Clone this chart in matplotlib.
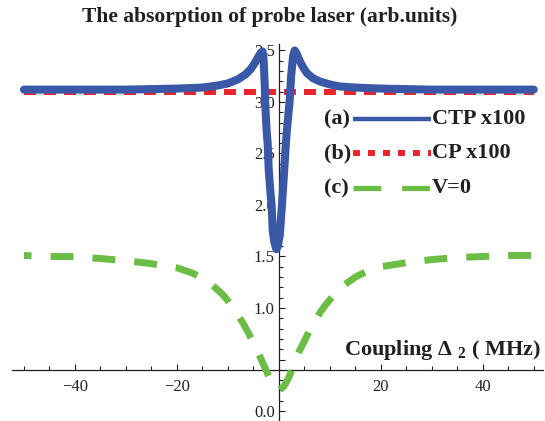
import matplotlib
matplotlib.use("Agg")
import matplotlib.pyplot as plt
import numpy as np
from matplotlib.ticker import FixedLocator, FixedFormatter

# ---------------- data ----------------
x_ctp = [-50, -40, -30, -20, -15, -12, -10, -8, -6.5, -5.5, -4.7, -4.0, -3.5, -3.2,
         -3.0, -2.8, -2.6, -2.4, -2.2, -2.0, -1.7, -1.4, -1.2, -0.9, -0.5, -0.2,
         0.2, 0.6, 1.0, 1.4, 1.8, 2.1, 2.4, 2.8, 3.1, 3.4, 4.0, 4.7, 5.5, 6.7,
         8, 10, 12, 15, 20, 30, 40, 50]
y_ctp = [3.12, 3.12, 3.12, 3.13, 3.14, 3.16, 3.18, 3.22, 3.27, 3.32, 3.38, 3.44, 3.48, 3.49,
         3.42, 3.20, 2.90, 2.72, 2.60, 2.35, 2.15, 1.98, 1.75, 1.64, 1.57, 1.60,
         1.72, 2.00, 2.30, 2.62, 2.85, 3.00, 3.25, 3.45, 3.50, 3.48, 3.41, 3.34, 3.28, 3.23,
         3.20, 3.17, 3.15, 3.14, 3.13, 3.12, 3.12, 3.12]

x_cp = [-50, 50]
y_cp = [3.095, 3.095]

x_v0 = [-50, -45, -40, -35, -30, -25, -20, -17, -15, -13, -11, -10, -9, -8, -7, -6, -5, -4,
        -3, -2, -1, 0, 1, 2, 3, 4, 5, 6, 7, 8, 9, 10, 11, 13, 15, 17, 20, 25, 30, 35, 40, 45, 50]
y_v0 = [1.51, 1.50, 1.50, 1.48, 1.46, 1.43, 1.39, 1.34, 1.29, 1.22, 1.13, 1.07, 1.00, 0.93,
        0.85, 0.76, 0.66, 0.56, 0.45, 0.34, 0.25, 0.20, 0.24, 0.33, 0.46, 0.58, 0.68, 0.78,
        0.87, 0.95, 1.02, 1.08, 1.14, 1.23, 1.30, 1.35, 1.40, 1.44, 1.47, 1.49, 1.50, 1.51, 1.51]

x_major = [-40, -20, 20, 40]
x_major_labels = ["\u221240", "\u221220", "20", "40"]
x_minor = [-50, -45, -35, -30, -25, -15, -10, -5, 5, 10, 15, 25, 30, 35, 45, 50]
y_major = [0.0, 0.5, 1.0, 1.5, 2.0, 2.5, 3.0, 3.5]
y_major_labels = ["0.0", "", "1.0", "1.5", "2.0", "2.5", "3.0", "3.5"]

series_labels = ["CTP x100", "CP x100", "V=0"]
series_tags = ["(a)", "(b)", "(c)"]

# ---------------- style ----------------
BLUE = "#3a58a8"
RED = "#ea2529"
GREEN = "#6bbd45"
INK = "#231f20"
plt.rcParams["font.family"] = ["Liberation Serif", "DejaVu Serif"]
plt.rcParams["lines.scale_dashes"] = False
plt.rcParams["mathtext.fontset"] = "custom"
plt.rcParams["mathtext.rm"] = "Liberation Serif:bold"
plt.rcParams["mathtext.bf"] = "Liberation Serif:bold"
plt.rcParams["mathtext.it"] = "Liberation Serif:bold"

W, H = 545, 421
fig = plt.figure(figsize=(W / 100, H / 100), dpi=100)
ax = fig.add_axes([0, 0, 1, 1])
ax.set_xlim(-54.7, 52.2)
ax.set_ylim(-0.097, 3.99)

# axes through the data (Mathematica style)
for s in ("top", "right"):
    ax.spines[s].set_visible(False)
ax.spines["left"].set_position(("data", 0))
ax.spines["bottom"].set_position(("data", 0.4))
ax.spines["left"].set_bounds(-0.097, 3.56)
ax.spines["bottom"].set_bounds(-52.3, 51.9)
for s in ("left", "bottom"):
    ax.spines[s].set_linewidth(0.9)
    ax.spines[s].set_color(INK)

ax.xaxis.set_major_locator(FixedLocator(x_major))
ax.xaxis.set_major_formatter(FixedFormatter(x_major_labels))
ax.xaxis.set_minor_locator(FixedLocator(x_minor))
ax.yaxis.set_major_locator(FixedLocator(y_major))
ax.yaxis.set_major_formatter(FixedFormatter(y_major_labels))
ax.yaxis.set_minor_locator(FixedLocator([i / 10 for i in range(0, 36)]))
ax.tick_params(which="both", direction="in", color=INK, width=0.8, labelcolor=INK,
               labelsize=12)
ax.tick_params(which="major", length=4.0)
ax.tick_params(which="minor", length=2.6)
ax.tick_params(axis="x", which="major", pad=6.5)
ax.tick_params(axis="y", which="major", pad=3)

# dash phase of the green curve: put a dash centred on the dip (style only)
ON, OFF = 16.5, 13.7
pts = ax.transData.transform(np.column_stack([x_v0, y_v0]))
seg = np.hypot(np.diff(pts[:, 0]), np.diff(pts[:, 1])) * 72 / fig.dpi
arc = np.concatenate([[0], np.cumsum(seg)])
s_mid = np.interp(0.2, x_v0, arc)
offset = (s_mid - ON / 2) % (ON + OFF)

# curves
ax.plot(x_cp, y_cp, color=RED, lw=4.3, dashes=(8.6, 5.8), solid_capstyle="butt",
        dash_capstyle="butt", zorder=2)
ax.plot(x_ctp, y_ctp, color=BLUE, lw=5.8, solid_capstyle="round",
        solid_joinstyle="round", zorder=3)
ax.plot(x_v0, y_v0, color=GREEN, lw=5.0, linestyle=(offset, (ON, OFF)),
        dash_capstyle="butt", zorder=3)

# title and axis label
fig.text(270 / W, 1 - 17 / H, "The absorption of probe laser (arb.units)",
         ha="center", va="center", fontsize=15.5, fontweight="bold", color=INK)
fig.text(541 / W, 1 - 355 / H, r"Coupling $\Delta\ _{2}$ ( MHz)",
         ha="right", va="baseline", fontsize=16, fontweight="bold", color=INK)

# legend (Mathematica style: tag, line sample, label)
rows_y = [119, 153, 188]
styles = [dict(color=BLUE, lw=3.2, solid_capstyle="butt"),
          dict(color=RED, lw=4.3, dashes=(5.0, 5.8), dash_capstyle="butt"),
          dict(color=GREEN, lw=3.8, dashes=(20, 15), dash_capstyle="butt")]
for yy, tag, lab, st in zip(rows_y, series_tags, series_labels, styles):
    fy = 1 - yy / H
    fig.text(324 / W, fy, tag, ha="left", va="center", fontsize=16,
             fontweight="bold", color=INK)
    ax.plot([353 / W, 431 / W], [fy, fy], transform=ax.transAxes, clip_on=False, **st)
    fig.text(432 / W, fy, lab, ha="left", va="center", fontsize=16,
             fontweight="bold", color=INK)

fig.savefig("out.png", dpi=100)
